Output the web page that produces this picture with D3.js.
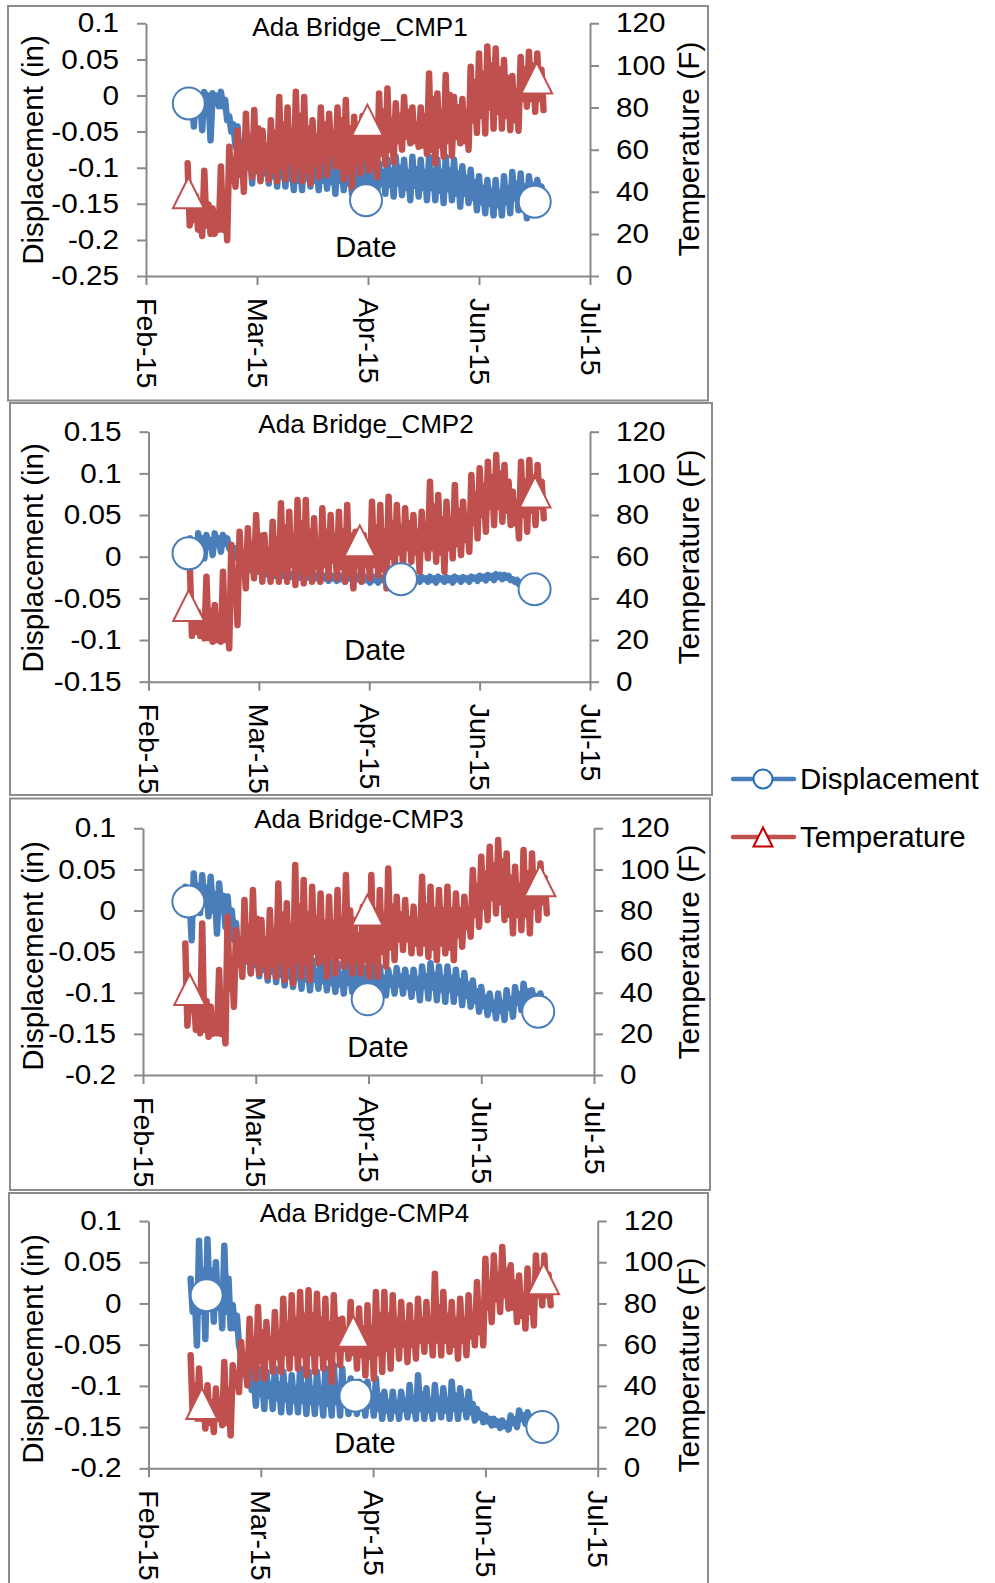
<!DOCTYPE html>
<html><head><meta charset="utf-8">
<script src="https://cdn.jsdelivr.net/npm/d3@7"></script>
<style>
html,body{margin:0;padding:0;background:#fff}
svg{display:block}
text{font-family:"Liberation Sans",Arial,Helvetica,sans-serif;fill:#000}
</style>
</head><body>
<svg id="chart" width="995" height="1583"></svg>
<script>
// ---------------- DATA ----------------
const xTickDates = ["2015-02-01 00:00","2015-03-13 00:00","2015-04-22 00:00","2015-06-01 00:00","2015-07-11 00:00"];
const tempTicks = [0, 20, 40, 60, 80, 100, 120];
const dispTicks1 = [-0.25, -0.2, -0.15, -0.1, -0.05, 0, 0.05, 0.1];
const dispTicks2 = [-0.15, -0.1, -0.05, 0, 0.05, 0.1, 0.15];
const dispTicks3 = [-0.2, -0.15, -0.1, -0.05, 0, 0.05, 0.1];
const dispTicks4 = [-0.2, -0.15, -0.1, -0.05, 0, 0.05, 0.1];
const titles = ["Ada Bridge_CMP1", "Ada Bridge_CMP2", "Ada Bridge-CMP3", "Ada Bridge-CMP4"];
const seriesNames = ["Displacement", "Temperature"];

// readings every 18 h, in blocks of 3 days: high, core low, core high, low
const sampleStart = "2015-02-16 00:00";
const sampleStepHours = 18;

// ---- CMP1
const tempHi1 = [53.5,38,50,32,52,61.4,69,77,78.8,69,74,85,80,87.5,85,74,80,77,80,83.6,75.6,76,75,86.7,89,82,85,80,80,96.2,86.7,95.4,85,84,99.4,105.7,109,108,102.6,95,104,106.5,105.7];
const tempCoreLo1 = [24,22,24,20,22,45,48,52,50,52,50,52,55,52,50,54,55,58,52,50,55,56,52,58,60,64,66,64,62,60,62,64,66,64,74,76,80,78,76,74,84,84,84];
const tempCoreHi1 = [30,28,34,30,36,55,60,66,70,62,68,72,66,76,70,66,72,68,74,70,66,68,72,78,74,76,78,72,76,84,78,86,80,78,92,96,100,98,94,88,98,100,98];
const tempLo1 = [26.6,19,20,22,17,42.4,40,47,45,45.6,45,46,45.6,45,44,47,48,52,46,42,48.7,50,47,53,54,60,63,61.4,58,53.5,56.7,57,63,60,68,67.7,70,70,69.3,69,80.4,78,78.8];
const dispHi1 = [-0.002,0.003,0.005,0.003,0.005,-0.029,-0.043,-0.052,-0.066,-0.062,-0.071,-0.075,-0.071,-0.080,-0.080,-0.085,-0.085,-0.080,-0.085,-0.089,-0.089,-0.085,-0.089,-0.094,-0.089,-0.085,-0.089,-0.085,-0.089,-0.085,-0.089,-0.085,-0.089,-0.098,-0.103,-0.112,-0.117,-0.117,-0.112,-0.106,-0.108,-0.112,-0.117];
const dispCoreLo1 = [-0.012,-0.015,-0.010,-0.008,-0.015,-0.050,-0.085,-0.100,-0.105,-0.108,-0.112,-0.112,-0.115,-0.118,-0.115,-0.118,-0.118,-0.120,-0.118,-0.122,-0.122,-0.122,-0.124,-0.122,-0.124,-0.122,-0.128,-0.125,-0.128,-0.128,-0.132,-0.130,-0.136,-0.136,-0.142,-0.148,-0.150,-0.152,-0.148,-0.142,-0.150,-0.136,-0.134];
const dispCoreHi1 = [-0.004,-0.002,0.000,0.000,-0.006,-0.040,-0.065,-0.080,-0.085,-0.088,-0.092,-0.095,-0.095,-0.098,-0.096,-0.100,-0.100,-0.098,-0.100,-0.104,-0.104,-0.100,-0.104,-0.106,-0.104,-0.100,-0.106,-0.102,-0.106,-0.104,-0.106,-0.104,-0.108,-0.114,-0.120,-0.128,-0.132,-0.134,-0.128,-0.122,-0.126,-0.124,-0.126];
const dispLo1 = [-0.043,-0.048,-0.062,-0.015,-0.034,-0.071,-0.103,-0.122,-0.117,-0.122,-0.126,-0.126,-0.131,-0.131,-0.126,-0.131,-0.129,-0.136,-0.131,-0.136,-0.136,-0.140,-0.138,-0.136,-0.140,-0.138,-0.145,-0.140,-0.145,-0.145,-0.149,-0.145,-0.154,-0.149,-0.159,-0.163,-0.166,-0.166,-0.163,-0.159,-0.170,-0.145,-0.140];

// ---- CMP2
const tempHi2 = [55.2,33.6,50.4,36.8,52.8,65.6,72,73.6,80,70.4,76.8,85.6,81.6,87.2,87.2,78.4,83.2,80,81.6,84.8,72,70.4,86.4,84.8,88.8,84.8,83.2,80,81.6,96,89.6,86.4,94.4,86.4,99.2,102.4,105.6,108.8,104,91.2,105.6,106.4,104];
const tempCoreLo2 = [22,22,21,20,20,40,52,55,54,54,52,54,56,54,52,55,56,58,55,52,56,56,56,54,60,62,64,62,64,64,62,64,66,68,76,80,84,84,82,76,80,82,84];
const tempCoreHi2 = [32,28,34,30,36,52,62,66,70,62,68,74,70,76,72,66,72,70,72,70,64,64,74,72,76,74,76,72,74,84,78,78,82,78,90,94,98,100,96,86,96,98,96];
const tempLo2 = [24,20.8,19.2,19.2,16,27.2,44.8,49.6,48,48,48,48,46.4,47.2,48,48,49.6,49.6,48,44.8,48,49.6,51.2,44.8,54.4,56,57.6,52.8,59.2,57.6,52.8,59.2,60.8,62.4,68.8,72,75.2,76.8,75.2,68.8,72,75.2,78.4];
const dispHi2 = [0.022,0.028,0.026,0.028,0.026,0.014,-0.002,-0.010,-0.012,-0.016,-0.018,-0.018,-0.020,-0.020,-0.021,-0.021,-0.022,-0.022,-0.022,-0.021,-0.022,-0.023,-0.023,-0.024,-0.024,-0.024,-0.024,-0.024,-0.024,-0.024,-0.024,-0.0245,-0.024,-0.0245,-0.024,-0.023,-0.022,-0.021,-0.022,-0.027,-0.031,-0.033,-0.034];
const dispCoreLo2 = [-0.004,0.010,0.012,0.014,0.016,0.002,-0.010,-0.016,-0.018,-0.021,-0.023,-0.023,-0.024,-0.025,-0.025,-0.026,-0.026,-0.026,-0.027,-0.026,-0.027,-0.028,-0.028,-0.028,-0.028,-0.028,-0.028,-0.027,-0.027,-0.028,-0.027,-0.028,-0.027,-0.027,-0.026,-0.026,-0.025,-0.024,-0.025,-0.030,-0.034,-0.036,-0.037];
const dispCoreHi2 = [0.010,0.022,0.020,0.022,0.022,0.010,-0.006,-0.013,-0.015,-0.018,-0.020,-0.020,-0.022,-0.022,-0.023,-0.023,-0.024,-0.024,-0.025,-0.024,-0.025,-0.026,-0.026,-0.026,-0.026,-0.026,-0.026,-0.026,-0.026,-0.026,-0.026,-0.026,-0.026,-0.026,-0.025,-0.024,-0.023,-0.022,-0.023,-0.028,-0.032,-0.034,-0.035];
const dispLo2 = [-0.010,-0.002,0.002,0.006,0.010,-0.002,-0.014,-0.020,-0.022,-0.024,-0.026,-0.026,-0.027,-0.028,-0.028,-0.0285,-0.029,-0.029,-0.030,-0.030,-0.030,-0.031,-0.031,-0.031,-0.031,-0.031,-0.031,-0.030,-0.030,-0.031,-0.030,-0.031,-0.030,-0.030,-0.029,-0.0285,-0.028,-0.027,-0.028,-0.033,-0.037,-0.039,-0.040];

// ---- CMP3
const tempHi3 = [64,39.7,73.7,33.2,51.1,77,70.5,85.1,90,75.4,80.2,93.2,83.5,102.1,94.8,91.6,88.3,86.7,90,97.3,75.4,81.9,97.3,90,100.5,86.7,85.1,81.9,96.4,91.6,90,91.6,88.3,86.7,99.7,106.2,111,114.3,107.8,101.3,109.4,107.8,102.9];
const tempCoreLo3 = [24,22,22,20,20,42,54,56,55,54,54,56,54,56,55,60,56,58,58,56,56,56,56,60,62,66,66,64,64,62,64,62,68,72,78,82,86,84,78,78,78,82,84];
const tempCoreHi3 = [40,30,36,28,34,56,64,72,76,66,70,78,72,82,78,76,74,74,76,80,68,72,80,78,82,78,76,74,82,80,80,80,80,80,92,98,102,104,96,92,98,98,96];
const tempLo3 = [33.2,20.3,18.6,20.3,15.4,33.2,47.8,49.4,49.4,47.8,47.8,46.2,44.6,47.8,46.2,54.3,47.8,49.4,52.7,49.4,49.4,47.8,47.8,52.7,55.9,60.8,59.2,59.2,57.5,55.9,59.2,55.9,62.4,67.3,72.1,75.4,78.6,75.4,68.9,70.5,68.9,75.4,78.6];
const dispHi3 = [0.029,0.045,0.043,0.041,0.033,0.017,-0.015,-0.028,-0.032,-0.040,-0.044,-0.048,-0.052,-0.056,-0.056,-0.060,-0.060,-0.062,-0.064,-0.060,-0.064,-0.068,-0.064,-0.068,-0.072,-0.070,-0.072,-0.072,-0.068,-0.064,-0.068,-0.068,-0.072,-0.076,-0.085,-0.093,-0.101,-0.101,-0.097,-0.093,-0.089,-0.097,-0.101];
const dispCoreLo3 = [0.000,0.010,0.008,0.000,0.000,-0.015,-0.055,-0.062,-0.066,-0.072,-0.074,-0.078,-0.080,-0.082,-0.084,-0.084,-0.086,-0.088,-0.090,-0.088,-0.090,-0.094,-0.092,-0.092,-0.090,-0.090,-0.092,-0.094,-0.092,-0.094,-0.096,-0.096,-0.100,-0.104,-0.110,-0.116,-0.120,-0.122,-0.118,-0.112,-0.106,-0.112,-0.114];
const dispCoreHi3 = [0.020,0.030,0.028,0.020,0.018,0.000,-0.035,-0.045,-0.050,-0.056,-0.060,-0.064,-0.068,-0.070,-0.072,-0.074,-0.074,-0.076,-0.078,-0.076,-0.078,-0.082,-0.080,-0.082,-0.082,-0.080,-0.082,-0.084,-0.080,-0.078,-0.082,-0.082,-0.086,-0.090,-0.098,-0.106,-0.112,-0.112,-0.108,-0.102,-0.098,-0.104,-0.108];
const dispLo3 = [-0.036,-0.003,-0.007,-0.028,-0.020,-0.036,-0.068,-0.076,-0.080,-0.085,-0.087,-0.091,-0.093,-0.095,-0.097,-0.095,-0.097,-0.099,-0.101,-0.099,-0.103,-0.105,-0.105,-0.103,-0.101,-0.101,-0.105,-0.109,-0.107,-0.109,-0.111,-0.111,-0.115,-0.117,-0.123,-0.127,-0.131,-0.133,-0.129,-0.121,-0.117,-0.121,-0.123];

// ---- CMP4
const tempHi4 = [54.8,48.4,40.3,38.7,51.6,50,61.3,72.6,78.3,71,75.9,82.3,84,85.6,86.4,84.7,82.3,84,72.6,80.7,77.5,79.1,85.6,85.6,84,80.7,79.1,82.3,80.7,94.4,85.6,80.7,82.3,84,90.4,101.7,103.3,107.4,98.5,93.6,96.9,103.3,103.3];
const tempCoreLo4 = [26,24,22,24,22,40,46,50,52,54,54,56,56,55,56,56,54,58,58,56,55,54,56,58,60,60,60,62,62,62,62,60,62,64,66,78,82,84,78,74,76,84,84];
const tempCoreHi4 = [40,36,32,32,38,46,54,62,66,62,66,70,72,74,74,72,70,72,66,70,68,68,74,74,72,70,70,72,70,78,74,72,72,74,80,90,94,96,90,84,88,96,94];
const tempLo4 = [24.1,19.3,17.6,20.9,16,37,40.3,43.5,43.5,46.8,46.8,48.4,48.4,45.1,46.8,48.4,41.9,50,53.2,48.4,45.1,43.5,46.8,48.4,53.2,51.6,53.2,56.5,54.8,54.8,56.5,53.2,54.8,59.7,59.7,71,75.9,77.5,71,67.8,69.4,79.1,79.1];
const dispHi4 = [0.030,0.076,0.078,0.050,0.070,-0.002,-0.063,-0.075,-0.079,-0.083,-0.079,-0.083,-0.087,-0.079,-0.083,-0.083,-0.079,-0.075,-0.079,-0.091,-0.095,-0.095,-0.091,-0.107,-0.107,-0.107,-0.099,-0.087,-0.103,-0.099,-0.103,-0.095,-0.103,-0.107,-0.128,-0.136,-0.140,-0.142,-0.136,-0.130,-0.132,-0.136,-0.140];
const dispCoreLo4 = [-0.010,-0.010,0.000,-0.005,-0.010,-0.030,-0.085,-0.105,-0.110,-0.112,-0.115,-0.116,-0.118,-0.118,-0.120,-0.120,-0.122,-0.120,-0.118,-0.122,-0.124,-0.124,-0.128,-0.130,-0.130,-0.128,-0.130,-0.128,-0.130,-0.128,-0.130,-0.128,-0.128,-0.132,-0.138,-0.143,-0.147,-0.149,-0.145,-0.140,-0.142,-0.145,-0.148];
const dispCoreHi4 = [0.010,0.040,0.040,0.020,0.030,-0.015,-0.075,-0.090,-0.095,-0.098,-0.098,-0.100,-0.104,-0.100,-0.104,-0.104,-0.102,-0.100,-0.102,-0.110,-0.112,-0.112,-0.112,-0.120,-0.120,-0.118,-0.116,-0.110,-0.118,-0.116,-0.118,-0.112,-0.118,-0.122,-0.134,-0.140,-0.143,-0.146,-0.141,-0.136,-0.138,-0.141,-0.144];
const dispLo4 = [-0.051,-0.043,-0.022,-0.030,-0.030,-0.051,-0.099,-0.124,-0.128,-0.128,-0.132,-0.132,-0.132,-0.134,-0.134,-0.136,-0.136,-0.136,-0.134,-0.134,-0.136,-0.136,-0.140,-0.140,-0.140,-0.138,-0.140,-0.140,-0.140,-0.138,-0.140,-0.140,-0.138,-0.142,-0.144,-0.148,-0.151,-0.153,-0.150,-0.146,-0.148,-0.150,-0.152];

// marker positions (date, value)
const dispMarkers1 = [["2015-02-16 10:00",-0.011],["2015-04-21 07:00",-0.145],["2015-06-21 02:00",-0.147]];
const tempMarkers1 = [["2015-02-16 07:00",39.5],["2015-04-21 19:00",74],["2015-06-21 19:00",94]];
const dispMarkers2 = [["2015-02-15 12:00",0.004],["2015-05-03 12:00",-0.027],["2015-06-20 22:00",-0.039]];
const tempMarkers2 = [["2015-02-15 14:00",36.6],["2015-04-18 14:00",67.6],["2015-06-21 02:00",91]];
const dispMarkers3 = [["2015-02-17 02:00",0.011],["2015-04-21 17:00",-0.108],["2015-06-21 05:00",-0.123]];
const tempMarkers3 = [["2015-02-17 14:00",41.6],["2015-04-21 14:00",80.2],["2015-06-21 19:00",94.5]];
const dispMarkers4 = [["2015-02-21 17:00",0.010],["2015-04-15 17:00",-0.112],["2015-06-21 07:00",-0.150]];
const tempMarkers4 = [["2015-02-20 00:00",31.4],["2015-04-14 22:00",66.5],["2015-06-21 17:00",92]];

// ---------------- LAYOUT ----------------
const BLUE = "#4a7ebb", RED = "#c0504d", AXIS = "#898989";
const panels = [
  {box:[8,6,700,394.5], left:146, right:590, top:23.3, bottom:276, dom:[-0.25,0.1], ticks:dispTicks1,
   d:[dispHi1,dispCoreLo1,dispCoreHi1,dispLo1], t:[tempHi1,tempCoreLo1,tempCoreHi1,tempLo1], dM:dispMarkers1, tM:tempMarkers1,
   titleX:360, titleY:36, dateX:366, dateY:257, yTitleY:150, rTitleY:149},
  {box:[10,403,702,392], left:148.5, right:590, top:431.7, bottom:681.7, dom:[-0.15,0.15], ticks:dispTicks2,
   d:[dispHi2,dispCoreLo2,dispCoreHi2,dispLo2], t:[tempHi2,tempCoreLo2,tempCoreHi2,tempLo2], dM:dispMarkers2, tM:tempMarkers2,
   titleX:366, titleY:433, dateX:375, dateY:660, yTitleY:558, rTitleY:557},
  {box:[10,798.5,700,391.5], left:143, right:594, top:828.3, bottom:1075, dom:[-0.2,0.1], ticks:dispTicks3,
   d:[dispHi3,dispCoreLo3,dispCoreHi3,dispLo3], t:[tempHi3,tempCoreLo3,tempCoreHi3,tempLo3], dM:dispMarkers3, tM:tempMarkers3,
   titleX:359, titleY:828, dateX:378, dateY:1057, yTitleY:956, rTitleY:952},
  {box:[9,1193,699,420], left:148.5, right:597.7, top:1221, bottom:1468.3, dom:[-0.2,0.1], ticks:dispTicks4,
   d:[dispHi4,dispCoreLo4,dispCoreHi4,dispLo4], t:[tempHi4,tempCoreLo4,tempCoreHi4,tempLo4], dM:dispMarkers4, tM:tempMarkers4,
   titleX:364.5, titleY:1222, dateX:365, dateY:1453, yTitleY:1349, rTitleY:1365}
];

const parse = d3.timeParse("%Y-%m-%d %H:%M");
const fmtDate = d3.timeFormat("%b-%y");
const fmtDisp = d => d === 0 ? "0" : String(+d.toFixed(2));
const start = parse(sampleStart);
const svg = d3.select("#chart");

// interleave the four readings of each 3-day block in time order
function series(arrs) {
  const out = [];
  const n = arrs[0].length;
  for (let i = 0; i < n; i++) {
    arrs.forEach((a, j) => {
      out.push({t: d3.timeHour.offset(start, sampleStepHours * (arrs.length * i + j)), v: a[i]});
    });
  }
  return out;
}
const triPath = s => `M0,${-s/2}L${s/2},${s/2}L${-s/2},${s/2}Z`;

panels.forEach((p, k) => {
  const [bx, by, bw, bh] = p.box;
  const clipId = "clip" + k;
  svg.append("clipPath").attr("id", clipId).append("rect")
    .attr("x", bx).attr("y", by).attr("width", bw).attr("height", bh);
  const g = svg.append("g").attr("clip-path", `url(#${clipId})`);

  const x = d3.scaleTime().domain([parse(xTickDates[0]), parse(xTickDates[xTickDates.length-1])]).range([p.left, p.right]);
  const yL = d3.scaleLinear().domain(p.dom).range([p.bottom, p.top]);
  const yR = d3.scaleLinear().domain([0,120]).range([p.bottom, p.top]);

  const ax = g.append("g").attr("transform", `translate(${p.left},0)`)
    .call(d3.axisLeft(yL).tickValues(p.ticks).tickFormat(fmtDisp).tickSize(9).tickSizeOuter(0).tickPadding(15.5));
  const ar = g.append("g").attr("transform", `translate(${p.right},0)`)
    .call(d3.axisRight(yR).tickValues(tempTicks).tickSize(9).tickSizeOuter(0).tickPadding(14.6));
  const ab = g.append("g").attr("transform", `translate(0,${p.bottom})`)
    .call(d3.axisBottom(x).tickValues(xTickDates.map(parse)).tickFormat(fmtDate).tickSize(9).tickSizeOuter(0));

  [ax, ar, ab].forEach(a => {
    a.select(".domain").attr("stroke", AXIS).attr("stroke-width", 2);
    a.selectAll(".tick line").attr("stroke", AXIS).attr("stroke-width", 2);
    a.attr("font-family", null).attr("font-size", null);
  });
  ax.selectAll(".tick text").attr("font-size", 27).attr("transform", "scale(1.1,1)");
  ar.selectAll(".tick text").attr("font-size", 27).attr("transform", "scale(1.1,1)");
  ab.selectAll(".tick text").attr("font-size", 28.5)
    .attr("y", 0).attr("x", 22).attr("dy", "0.35em")
    .attr("transform", "rotate(90)").attr("text-anchor", "start");

  const dispData = series(p.d);
  const tempData = series(p.t);
  g.append("path").datum(dispData)
    .attr("fill", "none").attr("stroke", BLUE).attr("stroke-width", 6.5).attr("stroke-linejoin", "round").attr("stroke-linecap", "round")
    .attr("d", d3.line().x(d => x(d.t)).y(d => yL(d.v)));
  g.append("path").datum(tempData)
    .attr("fill", "none").attr("stroke", RED).attr("stroke-width", 6.5).attr("stroke-linejoin", "round").attr("stroke-linecap", "round")
    .attr("d", d3.line().x(d => x(d.t)).y(d => yR(d.v)));

  g.selectAll(null).data(p.dM).enter().append("circle")
    .attr("cx", d => x(parse(d[0]))).attr("cy", d => yL(d[1])).attr("r", 16)
    .attr("fill", "#fff").attr("stroke", BLUE).attr("stroke-width", 2);
  g.selectAll(null).data(p.tM).enter().append("path")
    .attr("transform", d => `translate(${x(parse(d[0]))},${yR(d[1])})`)
    .attr("d", triPath(31))
    .attr("fill", "#fff").attr("stroke", RED).attr("stroke-width", 2);

  g.append("text").attr("x", p.titleX).attr("y", p.titleY).attr("text-anchor", "middle")
    .attr("font-size", 26).text(titles[k]);
  g.append("text").attr("x", p.dateX).attr("y", p.dateY).attr("text-anchor", "middle")
    .attr("font-size", 29).text("Date");
  g.append("text").attr("transform", `translate(32,${p.yTitleY}) rotate(-90)`)
    .attr("text-anchor", "middle").attr("dominant-baseline", "central")
    .attr("font-size", 29.5).text("Displacement (in)");
  g.append("text").attr("transform", `translate(688,${p.rTitleY}) rotate(-90)`)
    .attr("text-anchor", "middle").attr("dominant-baseline", "central")
    .attr("font-size", 30).text("Temperature (F)");

  svg.append("rect").attr("x", bx).attr("y", by).attr("width", bw).attr("height", bh)
    .attr("fill", "none").attr("stroke", "#8c8c8c").attr("stroke-width", 2);
});

// legend
const lg = svg.append("g");
const legendRows = [
  {name: seriesNames[0], color: BLUE, mark: "#1f6fc0", y: 779, shape: "circle"},
  {name: seriesNames[1], color: RED, mark: "#c00000", y: 837, shape: "tri"}
];
legendRows.forEach(r => {
  lg.append("line").attr("x1", 733).attr("x2", 794).attr("y1", r.y).attr("y2", r.y)
    .attr("stroke", r.color).attr("stroke-width", 4.5).attr("stroke-linecap", "round");
  if (r.shape === "circle") {
    lg.append("circle").attr("cx", 763).attr("cy", r.y).attr("r", 9.5)
      .attr("fill", "#fff").attr("stroke", r.mark).attr("stroke-width", 2);
  } else {
    lg.append("path").attr("transform", `translate(763,${r.y})`).attr("d", triPath(19))
      .attr("fill", "#fff").attr("stroke", r.mark).attr("stroke-width", 2);
  }
  lg.append("text").attr("x", 800).attr("y", r.y + 10).attr("font-size", 29.5).text(r.name);
});
</script>
</body></html>
